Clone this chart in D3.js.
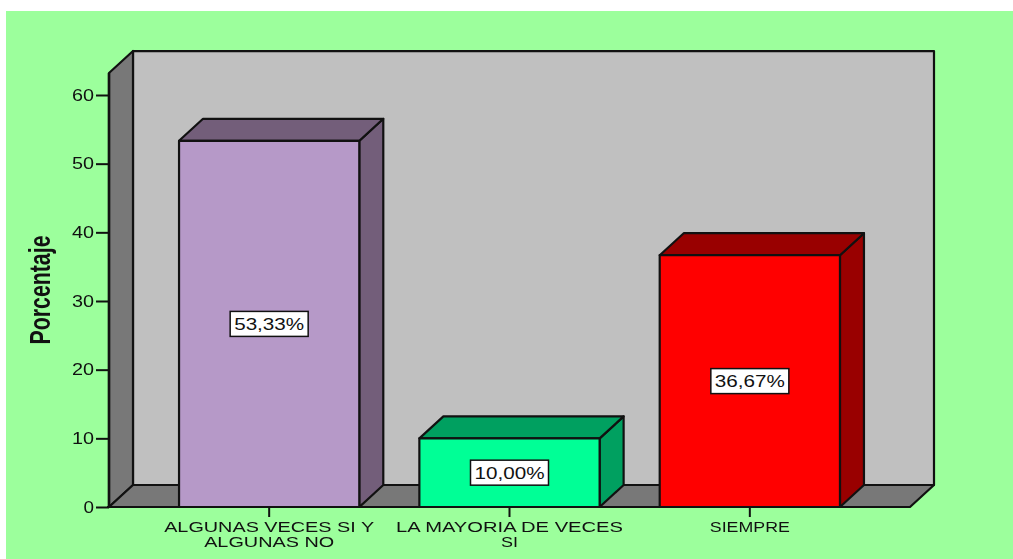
<!DOCTYPE html>
<html><head><meta charset="utf-8">
<script src="https://cdn.jsdelivr.net/npm/d3@7/dist/d3.min.js"></script>
<style>html,body{margin:0;padding:0;background:#fff}svg{display:block}</style></head>
<body><svg id="c" width="1013" height="559"></svg>
<script>
const categories = ["ALGUNAS VECES SI Y ALGUNAS NO", "LA MAYORIA DE VECES SI", "SIEMPRE"];
const categoryLines = [["ALGUNAS VECES SI Y", "ALGUNAS NO"], ["LA MAYORIA DE VECES", "SI"], ["SIEMPRE"]];
const values = [53.33, 10.00, 36.67];
const valueLabels = ["53,33%", "10,00%", "36,67%"];
const frontColors = ["#b699c8", "#00ff96", "#ff0000"];
const sideColors = ["#735e7a", "#00a060", "#990000"];
const yTicks = [0, 10, 20, 30, 40, 50, 60];
const yMaxValue = 63.2;

const INK = "#111";
const svg = d3.select("#c");
const dx = 24, dy = 22;
const plot = {left: 109, right: 910, bottom: 507};
const y = d3.scaleLinear().domain([0, 60]).range([plot.bottom, 95]);
const x = d3.scaleBand().domain(categories).range([149, 870]).paddingInner(0.25).paddingOuter(0.125);
const poly = pts => "M" + pts.map(p => p.join(",")).join("L") + "Z";

svg.append("rect").attr("x", 6).attr("y", 11).attr("width", 1007).attr("height", 548).attr("fill", "#9cff9c");

const chart = svg.append("g").style("filter", "blur(0.4px)");
const wallTop = y(yMaxValue);
const g = chart.append("g").attr("stroke", INK).attr("stroke-width", 2.2).attr("stroke-linejoin", "round");
// back wall
g.append("rect").attr("x", plot.left + dx).attr("y", wallTop - dy)
  .attr("width", plot.right - plot.left).attr("height", plot.bottom - wallTop).attr("fill", "#c0c0c0");
// left wall
g.append("path").attr("fill", "#787878").attr("d", poly([[plot.left, wallTop], [plot.left + dx, wallTop - dy], [plot.left + dx, plot.bottom - dy], [plot.left, plot.bottom]]));
// floor
g.append("path").attr("fill", "#787878").attr("d", poly([[plot.left, plot.bottom], [plot.left + dx, plot.bottom - dy], [plot.right + dx, plot.bottom - dy], [plot.right, plot.bottom]]));

// bars
categories.forEach((c, i) => {
  const x0 = x(c), x1 = x0 + x.bandwidth(), yt = y(values[i]), yb = y(0);
  g.append("path").attr("fill", sideColors[i]).attr("d", poly([[x1, yb], [x1 + dx, yb - dy], [x1 + dx, yt - dy], [x1, yt]]));
  g.append("path").attr("fill", sideColors[i]).attr("d", poly([[x0, yt], [x0 + dx, yt - dy], [x1 + dx, yt - dy], [x1, yt]]));
  g.append("rect").attr("x", x0).attr("y", yt).attr("width", x1 - x0).attr("height", yb - yt).attr("fill", frontColors[i]);
  // value label
  const cx = (x0 + x1) / 2, cy = (yt + yb) / 2;
  chart.append("rect").attr("x", cx - 39).attr("y", cy - 12.5).attr("width", 78).attr("height", 25)
    .attr("fill", "#fff").attr("stroke", INK).attr("stroke-width", 1.5);
  chart.append("text").attr("x", cx).attr("y", cy + 6).attr("text-anchor", "middle")
    .attr("font-family", "Liberation Sans").attr("font-size", 16).attr("fill", INK)
    .attr("textLength", 70).attr("lengthAdjust", "spacingAndGlyphs").text(valueLabels[i]);
});

// y axis
const yAxis = chart.append("g").attr("transform", `translate(${plot.left},0)`)
  .call(d3.axisLeft(y).tickValues(yTicks).tickSize(13).tickPadding(2));
yAxis.select(".domain").attr("stroke", INK).attr("stroke-width", 2.5).attr("d", `M0,${wallTop}V${plot.bottom}`);
yAxis.selectAll("line").attr("stroke", INK).attr("stroke-width", 2);
yAxis.selectAll("text").attr("font-family", "Liberation Sans").attr("font-size", 16).attr("fill", INK)
  .attr("textLength", d => d === 0 ? 10.5 : 22).attr("lengthAdjust", "spacingAndGlyphs");

// x axis
chart.append("line").attr("x1", plot.left - 2).attr("x2", plot.right).attr("y1", plot.bottom).attr("y2", plot.bottom)
  .attr("stroke", INK).attr("stroke-width", 2.2);
const lineWidths = {"ALGUNAS VECES SI Y": 210, "ALGUNAS NO": 130, "LA MAYORIA DE VECES": 227, "SI": 17, "SIEMPRE": 80};
categories.forEach((c, i) => {
  const cx = x(c) + x.bandwidth() / 2;
  chart.append("line").attr("x1", cx).attr("x2", cx).attr("y1", plot.bottom).attr("y2", plot.bottom + 10)
    .attr("stroke", INK).attr("stroke-width", 2);
  categoryLines[i].forEach((t, j) => {
    chart.append("text").attr("x", cx).attr("y", 532 + j * 15).attr("text-anchor", "middle")
      .attr("font-family", "Liberation Sans").attr("font-size", 14.5).attr("fill", INK)
      .attr("textLength", lineWidths[t]).attr("lengthAdjust", "spacingAndGlyphs").text(t);
  });
});

// y title
chart.append("text").attr("transform", "translate(50,290) rotate(-90)").attr("text-anchor", "middle")
  .attr("font-family", "Liberation Sans").attr("font-weight", "bold").attr("font-size", 30).attr("fill", INK)
  .attr("textLength", 109).attr("lengthAdjust", "spacingAndGlyphs").text("Porcentaje");
</script></body></html>
